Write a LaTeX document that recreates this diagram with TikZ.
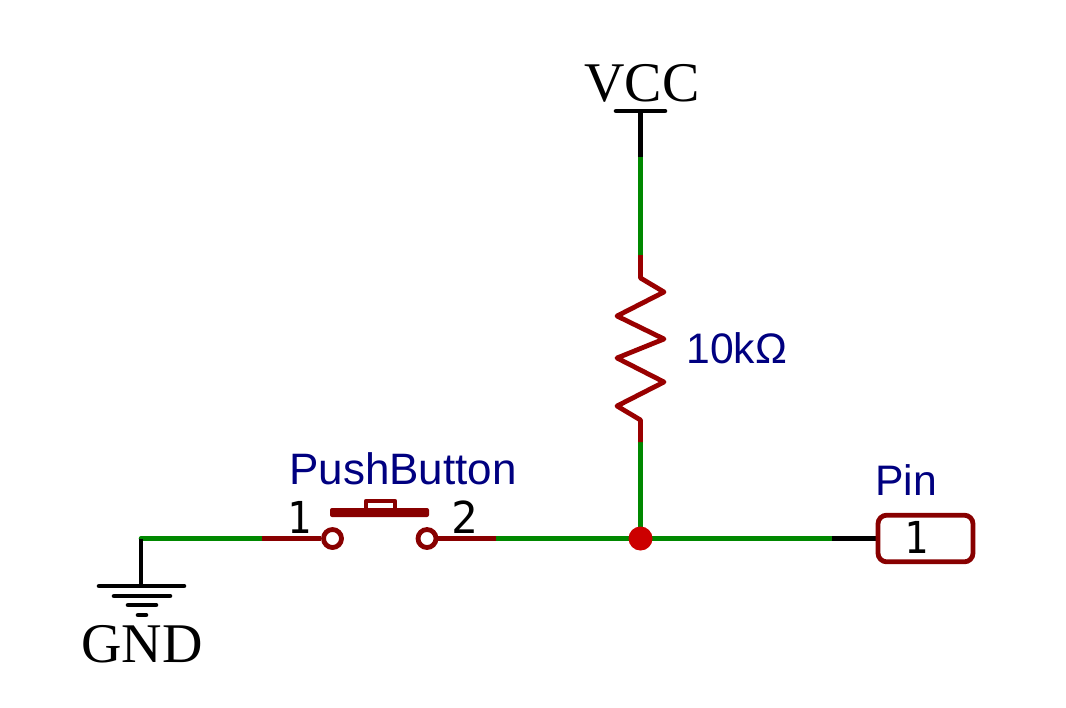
\documentclass[tikz,border=0pt]{standalone}
\usepackage{graphicx}
\usepackage{fontspec}
\setmainfont{Liberation Serif}
\setsansfont{Liberation Sans}
\setmonofont{DejaVu Sans Mono}
\definecolor{wirecol}{HTML}{008800}
\definecolor{partcol}{HTML}{880000}
\definecolor{rescol}{HTML}{990000}
\definecolor{labelcol}{HTML}{000080}
\definecolor{dotcol}{HTML}{CC0000}
\tikzset{
  wire/.style={draw=wirecol,line width=3.4pt,line cap=round},
  partline/.style={draw=partcol,line width=3.4pt,line cap=butt},
  blackline/.style={draw=black,line width=3.4pt,line cap=round},
  pad/.style={circle,draw=partcol,line width=3.6pt,fill=white,inner sep=0pt,minimum size=13.5pt},
  pinbox/.style={rectangle,rounded corners=6.5pt,draw=partcol,line width=3.6pt,fill=white,inner sep=0pt,minimum width=71.25pt,minimum height=35pt},
  powerlabel/.style={inner sep=0pt,anchor=base,font=\fontsize{42pt}{42pt}\selectfont\rmfamily,text=black},
  partlabel/.style={inner sep=0pt,anchor=base west,font=\fontsize{32pt}{32pt}\selectfont\sffamily,text=labelcol},
  pinnum/.style={inner sep=0pt,anchor=base,font=\fontsize{33pt}{33pt}\selectfont\ttfamily,text=black}
}
\newcommand{\narrowdigit}[2]{\scalebox{#1}[1]{#2}}
\begin{document}
\begin{tikzpicture}[x=0.75pt,y=-0.75pt]
\useasboundingbox (0,0) rectangle (1066,707);
% named points
\coordinate (vcctop) at (640.5,111);
\coordinate (vccl) at (616,111);
\coordinate (vccr) at (665,111);
\coordinate (vccend) at (640.5,157);
\coordinate (rtop) at (640.5,255);
\coordinate (rbot) at (640.5,442);
\coordinate (gndc) at (141,538.5);
\coordinate (gndb) at (141,586);
\coordinate (w1) at (262,538.5);
\coordinate (w2) at (496,538.5);
\coordinate (w3) at (832,538.5);
% wires
\draw[wire] (vccend) -- (rtop);
\draw[wire] (gndc) -- (w1);
\draw[wire] (w2) -- (w3);
\draw[wire] (rbot) -- (640.5,538.5);
\node[circle,fill=dotcol,inner sep=0pt,minimum size=18pt] (junction) at (640.5,538.5) {};
% VCC
\draw[blackline] (vccl) -- (vccr);
\draw[blackline,line cap=butt] (vcctop) -- (vccend);
\node[powerlabel] (vcc) at (642,101.5) {VCC};
% Resistor
\draw[draw=rescol,line width=3.6pt,line cap=butt,line join=round]
  (rtop) -- (640.5,278) -- (664,292) -- (617,316) -- (664,339) -- (617,358) -- (664,382) -- (617,406) -- (640.5,420) -- (rbot);
\node[partlabel] (rval) at (686,363) {10kΩ};
% GND
\draw[blackline,line cap=butt] (gndc) -- (gndb);
\draw[blackline] (99,586) -- (184,586);
\draw[blackline] (114,596) -- (170,596);
\draw[blackline] (128,605) -- (156,605);
\draw[blackline] (138,615) -- (146,615);
\node[powerlabel] (gnd) at (142,662) {GND};
% Push button
\node[pad] (p1) at (332.5,538.5) {};
\node[pad] (p2) at (427,538.5) {};
\draw[partline] (w1) -- (p1.west);
\draw[partline] (p2.east) -- (w2);
\draw[draw=none,fill=partcol,rounded corners=1.5pt] (330,508) rectangle (429,517);
\draw[draw=partcol,line width=3.4pt,line join=round] (366,510) -- (366,501) -- (395,501) -- (395,510);
\node[pinnum] (n1) at (299,533) {\narrowdigit{0.9}{1}};
\node[pinnum] (n2) at (465,533) {\narrowdigit{1}{2}};
\node[partlabel,font=\fontsize{33pt}{33pt}\selectfont\sffamily] (pbl) at (289,484) {PushButton};
% Pin
\draw[blackline,line cap=butt] (w3) -- (878,538.5);
\node[pinbox] (pinb) at (925.5,538.5) {};
\node[pinnum] (n3) at (916,553) {\narrowdigit{0.9}{1}};
\node[partlabel] (pinl) at (875,495.5) {Pin};
\end{tikzpicture}
\end{document}
